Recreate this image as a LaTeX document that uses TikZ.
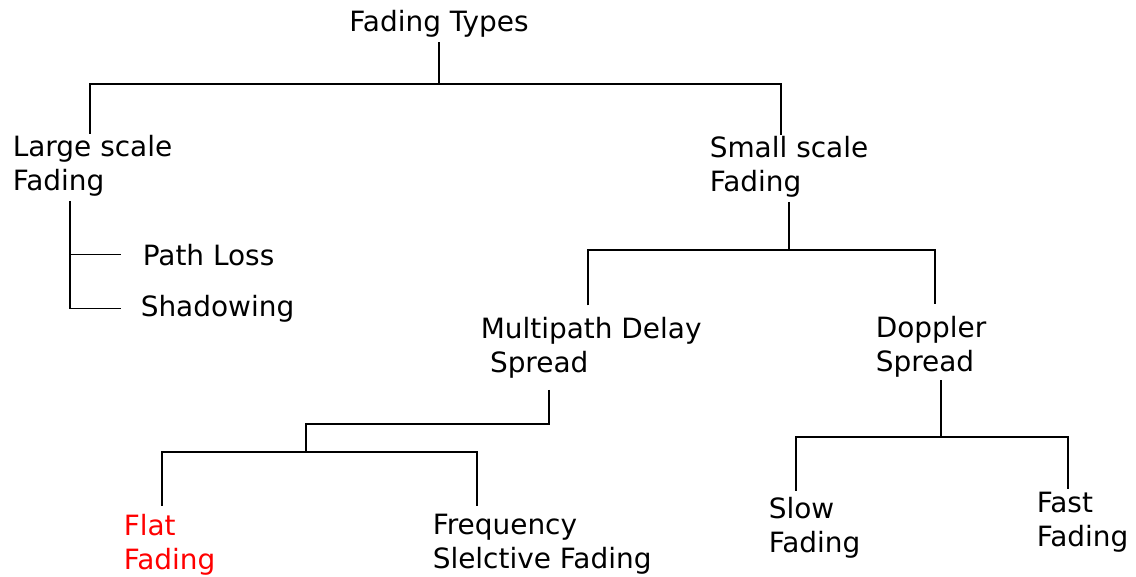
\documentclass[tikz,border=0pt]{standalone}
\usepackage{fontspec}
\setmainfont{DejaVu Sans}
\begin{document}
\begin{tikzpicture}[x=0.02cm, y=-0.02cm, line width=0.9pt,
    lbl/.style={anchor=north west, align=left, inner sep=0pt, font=\fontsize{15.9}{19.8}\selectfont}]
\useasboundingbox (0,0) rectangle (1136,577);
% labels
\node[lbl, anchor=base] (types) at (439,32) {Fading Types};
\node[lbl] (large) at (12,134) {Large scale\\Fading};
\node[lbl] (small) at (709,135) {Small scale\\Fading};
\node[lbl] (pathloss) at (142,243) {Path Loss};
\node[lbl] (shadow) at (140,294) {Shadowing};
\node[lbl] (multi) at (480,316) {Multipath Delay\\\hspace*{0.33em}Spread};
\node[lbl] (doppler) at (875,315) {Doppler\\Spread};
\node[lbl, text=red] (flat) at (123,513) {Flat\\Fading};
\node[lbl] (freq) at (432,513) {Frequency\\Slelctive Fading};
\node[lbl] (slow) at (768,496) {Slow\\Fading};
\node[lbl] (fast) at (1036,491) {Fast\\Fading};

% top level
\coordinate (tl) at (90,84);
\coordinate (tr) at (781,84);
\draw[shorten <=2pt] (types.south) -- (types.south |- tl);
\draw (large.north -| tl) -- (tl) -- (tr) -- (small.north -| tr);

% large scale
\coordinate (lx) at (70,0);
\draw[shorten <=2pt, shorten >=11pt] (large.south -| lx) -- (lx |- shadow.west) -- (shadow.west);
\draw[shorten >=12pt] (lx |- pathloss.west) -- (pathloss.west);

% small scale
\coordinate (sb) at (0,250);
\coordinate (ml) at (588,250);
\coordinate (dr) at (935,250);
\draw[shorten <=2pt] (small.south) -- (small.south |- sb);
\draw[shorten <=6pt, shorten >=6pt] (multi.north -| ml) -- (ml) -- (dr) -- (doppler.north -| dr);

% multipath
\coordinate (mx) at (549,424);
\coordinate (mb) at (306,424);
\coordinate (fl) at (162,452);
\coordinate (fr) at (477,452);
\draw[shorten <=6pt] (multi.south -| mx) -- (mx) -- (mb) -- (mb |- fl);
\draw[shorten <=4pt, shorten >=4pt] (flat.north -| fl) -- (fl) -- (fr) -- (freq.north -| fr);

% doppler
\coordinate (dx) at (941,437);
\coordinate (sl) at (796,437);
\coordinate (fa) at (1068,437);
\draw[shorten <=1pt] (doppler.south -| dx) -- (dx);
\draw[shorten <=3pt, shorten >=1pt] (slow.north -| sl) -- (sl) -- (fa) -- (fast.north -| fa);

\end{tikzpicture}
\end{document}
